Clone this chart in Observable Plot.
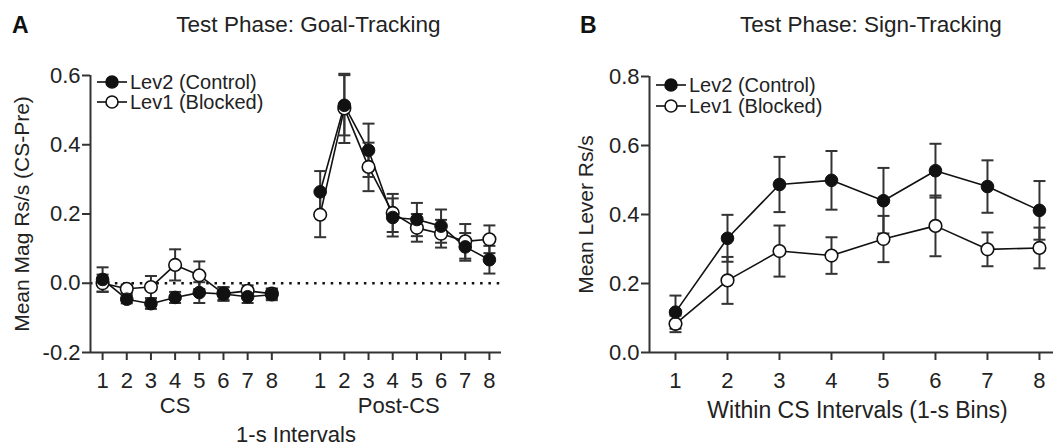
<!DOCTYPE html>
<html><head><meta charset="utf-8">
<script src="https://cdn.jsdelivr.net/npm/d3@7"></script>
<script src="https://cdn.jsdelivr.net/npm/@observablehq/plot@0.6"></script>
<style>
body{margin:0;background:#fff;font-family:"Liberation Sans",Arial,Helvetica,sans-serif;color:#222}
#wrap{position:relative;width:1053px;height:446px;overflow:hidden;background:#fff}
.abs{position:absolute;white-space:nowrap;line-height:1}
.panel{position:absolute;top:0}
.leg{position:absolute;display:flex;align-items:center;font-size:20px;line-height:1;white-space:nowrap}
.leg svg{margin-right:3px}
</style></head><body><div id="wrap"></div>
<script>
// ---------- data ----------
const intervals = [1, 2, 3, 4, 5, 6, 7, 8];
const groups = ["Lev2 (Control)", "Lev1 (Blocked)"];
// Panel A: goal-tracking (CS and Post-CS)
const csLev2 = [0.011, -0.046, -0.059, -0.041, -0.027, -0.031, -0.039, -0.033];
const csLev2Err = [0.035, 0.012, 0.015, 0.016, 0.03, 0.02, 0.018, 0.016];
const csLev1 = [0.0, -0.016, -0.011, 0.053, 0.023, -0.03, -0.022, -0.03];
const csLev1Err = [0.025, 0.012, 0.032, 0.045, 0.04, 0.018, 0.016, 0.015];
const postLev2 = [0.264, 0.514, 0.384, 0.19, 0.184, 0.165, 0.105, 0.068];
const postLev2Err = [0.06, 0.087, 0.077, 0.055, 0.048, 0.048, 0.04, 0.04];
const postLev1 = [0.198, 0.505, 0.336, 0.203, 0.16, 0.143, 0.121, 0.127];
const postLev1Err = [0.065, 0.1, 0.07, 0.055, 0.04, 0.04, 0.05, 0.04];
// Panel B: sign-tracking
const stLev2 = [0.117, 0.331, 0.487, 0.499, 0.44, 0.527, 0.481, 0.412];
const stLev2Err = [0.048, 0.068, 0.08, 0.085, 0.095, 0.078, 0.076, 0.085];
const stLev1 = [0.083, 0.209, 0.294, 0.281, 0.329, 0.367, 0.299, 0.303];
const stLev1Err = [0.024, 0.068, 0.074, 0.053, 0.067, 0.088, 0.049, 0.059];
// tick labels / text
const phases = ["CS", "Post-CS"];
const yTicksA = [-0.2, 0, 0.2, 0.4, 0.6];
const yTicksB = [0, 0.2, 0.4, 0.6, 0.8];
const titlesA = {letter: "A", title: "Test Phase: Goal-Tracking", y: "Mean Mag Rs/s (CS-Pre)", x: "1-s Intervals"};
const titlesB = {letter: "B", title: "Test Phase: Sign-Tracking", y: "Mean Lever Rs/s", x: "Within CS Intervals (1-s Bins)"};

// ---------- build tables ----------
const phaseOffset = {"CS": 0, "Post-CS": 9};
function rows(vals, errs, group, phase) {
  return intervals.map((t, i) => ({interval: t, pos: t + phaseOffset[phase], value: vals[i], err: errs[i], group, phase}));
}
const dataA = [
  ...rows(csLev1, csLev1Err, groups[1], "CS"),
  ...rows(postLev1, postLev1Err, groups[1], "Post-CS"),
  ...rows(csLev2, csLev2Err, groups[0], "CS"),
  ...rows(postLev2, postLev2Err, groups[0], "Post-CS")
];
const dataB = [
  ...rows(stLev1, stLev1Err, groups[1], "CS"),
  ...rows(stLev2, stLev2Err, groups[0], "CS")
];
const xTicksA = phases.flatMap(p => intervals.map(t => t + phaseOffset[p]));
const phaseLabels = phases.map(p => ({label: p, pos: (p === "CS" ? 4 : 4.25) + phaseOffset[p]}));

const INK = "#111", AX = "#333";
const FONT = '"Liberation Sans", Arial, Helvetica, sans-serif';
const capSymbol = {draw(ctx, size) { const w = Math.sqrt(size / Math.PI); ctx.moveTo(-w, 0); ctx.lineTo(w, 0); }};

function seriesMarks(data) {
  return [
    Plot.line(data, {x: "pos", y: "value", z: d => d.group + d.phase, stroke: INK, strokeWidth: 1.6}),
    Plot.ruleX(data, {x: "pos", y1: d => d.value - d.err, y2: d => d.value + d.err, stroke: AX, strokeWidth: 2}),
    Plot.dot(data, {x: "pos", y: d => d.value + d.err, symbol: capSymbol, r: 6, stroke: AX, strokeWidth: 2, fill: "none"}),
    Plot.dot(data, {x: "pos", y: d => d.value - d.err, symbol: capSymbol, r: 6, stroke: AX, strokeWidth: 2, fill: "none"}),
    Plot.dot(data.filter(d => d.group === groups[1]), {x: "pos", y: "value", r: 6.3, fill: "#fff", stroke: INK, strokeWidth: 1.6}),
    Plot.dot(data.filter(d => d.group === groups[0]), {x: "pos", y: "value", r: 6.3, fill: INK, stroke: INK, strokeWidth: 1})
  ];
}
const fmt1 = d => d.toFixed(1);
const style = {fontFamily: FONT, fontSize: "22px", color: "#222", background: "transparent", overflow: "visible"};
const TICKFS = 22, XLABFS = 22, YLABFS = 21;

const plotA = Plot.plot({
  width: 530, height: 446,
  marginLeft: 90, marginRight: 29, marginTop: 75, marginBottom: 94,
  style,
  x: {domain: [0.5, 17.5]},
  y: {domain: [-0.2, 0.6]},
  marks: [
    Plot.ruleY([0], {stroke: INK, strokeWidth: 2.5, strokeDasharray: "2.5,5.8"}),
    ...seriesMarks(dataA),
    Plot.ruleY([-0.2], {stroke: AX, strokeWidth: 2}),
    Plot.ruleX([0.5], {y1: -0.2, y2: 0.6, stroke: AX, strokeWidth: 2}),
    Plot.axisX({ticks: xTicksA, tickFormat: d => String(d > 9 ? d - 9 : d), tickSize: 8, tickPadding: 12, stroke: AX, strokeWidth: 2, label: null, fontSize: TICKFS}),
    Plot.axisY({ticks: yTicksA, tickFormat: fmt1, tickSize: 8, tickPadding: 2, stroke: AX, strokeWidth: 2, label: null, fontSize: TICKFS}),
    Plot.text(phaseLabels, {x: "pos", text: "label", frameAnchor: "bottom", lineAnchor: "middle", dy: 53, fontSize: XLABFS, fill: "#222"}),
    Plot.text([titlesA.x], {text: d => d, frameAnchor: "bottom", lineAnchor: "middle", dy: 82, fontSize: XLABFS, fill: "#222"}),
    Plot.text([titlesA.y], {text: d => d, frameAnchor: "left", textAnchor: "middle", lineAnchor: "middle", rotate: -90, dx: -68, fontSize: YLABFS, fill: "#222"})
  ]
});

const plotB = Plot.plot({
  width: 513, height: 446,
  marginLeft: 109, marginRight: 0, marginTop: 76, marginBottom: 94,
  style,
  x: {domain: [0.5, 8.27]},
  y: {domain: [0, 0.8]},
  marks: [
    ...seriesMarks(dataB),
    Plot.ruleY([0], {stroke: AX, strokeWidth: 2}),
    Plot.ruleX([0.5], {y1: 0, y2: 0.8, stroke: AX, strokeWidth: 2}),
    Plot.axisX({ticks: intervals, tickFormat: d => String(d), tickSize: 8, tickPadding: 12, stroke: AX, strokeWidth: 2, label: null, fontSize: TICKFS}),
    Plot.axisY({ticks: yTicksB, tickFormat: fmt1, tickSize: 8, tickPadding: 2, stroke: AX, strokeWidth: 2, label: null, fontSize: TICKFS}),
    Plot.text([titlesB.x], {text: d => d, frameAnchor: "bottom", lineAnchor: "middle", dx: 6, dy: 58, fontSize: 23, fill: "#222"}),
    Plot.text([titlesB.y], {text: d => d, frameAnchor: "left", textAnchor: "middle", lineAnchor: "middle", rotate: -90, dx: -63, fontSize: YLABFS, fill: "#222"})
  ]
});

const wrap = document.getElementById("wrap");
function place(el, left) { el.classList.add("panel"); el.style.left = left + "px"; wrap.appendChild(el); }
place(plotA, 0);
place(plotB, 540);

function addText(txt, left, top, css) {
  const d = document.createElement("div");
  d.className = "abs"; d.textContent = txt;
  d.style.left = left + "px"; d.style.top = top + "px";
  Object.assign(d.style, css || {});
  wrap.appendChild(d);
}
addText(titlesA.letter, 12, 25, {fontWeight: "bold", fontSize: "23px", transform: "translateY(-50%)", color: "#111"});
addText(titlesA.title, 308.5, 25, {fontSize: "22.5px", transform: "translate(-50%,-50%)"});
addText(titlesB.letter, 580, 25, {fontWeight: "bold", fontSize: "23px", transform: "translateY(-50%)", color: "#111"});
addText(titlesB.title, 871, 25, {fontSize: "22.5px", transform: "translate(-50%,-50%)"});

function legendItem(label, filled, left, cy) {
  const d = document.createElement("div");
  d.className = "leg";
  d.style.left = left + "px"; d.style.top = (cy - 11) + "px"; d.style.height = "22px";
  const ns = "http://www.w3.org/2000/svg";
  const s = document.createElementNS(ns, "svg");
  s.setAttribute("width", 30); s.setAttribute("height", 22);
  const ln = document.createElementNS(ns, "line");
  ln.setAttribute("x1", 0); ln.setAttribute("x2", 30); ln.setAttribute("y1", 11); ln.setAttribute("y2", 11);
  ln.setAttribute("stroke", INK); ln.setAttribute("stroke-width", 1.6);
  const c = document.createElementNS(ns, "circle");
  c.setAttribute("cx", 15); c.setAttribute("cy", 11); c.setAttribute("r", 6);
  c.setAttribute("fill", filled ? INK : "#fff"); c.setAttribute("stroke", INK); c.setAttribute("stroke-width", 1.6);
  s.appendChild(ln); s.appendChild(c);
  const t = document.createElement("span"); t.textContent = label;
  d.appendChild(s); d.appendChild(t);
  wrap.appendChild(d);
}
legendItem(groups[0], true, 97, 82);
legendItem(groups[1], false, 97, 102);
legendItem(groups[0], true, 656, 85);
legendItem(groups[1], false, 656, 105.5);
</script></body></html>
